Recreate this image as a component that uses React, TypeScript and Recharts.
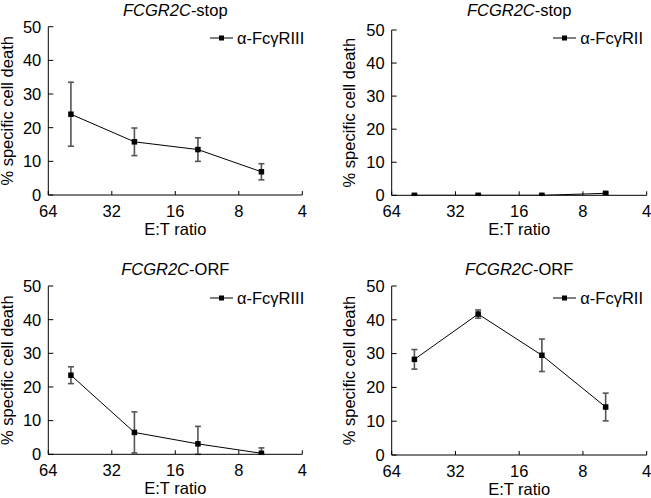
import React from 'react';
import { LineChart, Line, XAxis, YAxis, ErrorBar, Legend } from 'recharts';

// E:T ratios used in every panel
const ratios = [50, 25, 12.5, 6.25];
const xTicks = [64, 32, 16, 8, 4];
const yTicks = [0, 10, 20, 30, 40, 50];

// % specific cell death, mean and error
const stopRIII = [24, 15.8, 13.5, 6.9];
const stopRIIIErr = [9.5, 4.1, 3.5, 2.4];
const stopRII = [0, 0, 0, 0.6];
const stopRIIErr = [0.1, 0.1, 0.1, 0.3];
const orfRIII = [23.5, 6.5, 3.1, 0.3];
const orfRIIIErr = [2.5, 6.1, 5.2, 1.6];
const orfRII = [28.3, 41.7, 29.5, 14.2];
const orfRIIErr = [2.9, 1.2, 4.8, 4.1];

const FONT = '"Liberation Sans", Arial, Helvetica, sans-serif';
const FS = 16.5;

const buildRows = (vals: number[], errs: number[]) =>
  ratios.map((r, i) => ({
    ratio: r,
    value: vals[i],
    // lower whisker stops at zero
    err: [Math.min(errs[i], vals[i]), errs[i]],
  }));

const renderSquare = (p: any) => {
  const { cx, cy, index } = p;
  if (cx == null || cy == null) return <g key={index} />;
  return <rect key={index} x={cx - 2.75} y={cy - 2.75} width={5.5} height={5.5} fill="#000" />;
};

interface PanelProps {
  x: number;
  y: number;
  w: number;
  h: number;
  L: number;
  T: number;
  R: number;
  B: number;
  suffix: string;
  titleTop: number;
  legendName: string;
  legendLeft: number;
  legendY: number;
  yLabelX: number;
  values: number[];
  errs: number[];
}

function Panel(p: PanelProps) {
  const data = buildRows(p.values, p.errs);
  const cy = (p.T + p.B) / 2;
  const cx = (p.L + p.R) / 2;
  return (
    <>
      <div
        style={{
          position: 'absolute',
          left: p.x + p.L,
          width: p.R - p.L,
          top: p.y + p.titleTop,
          textAlign: 'center',
          fontFamily: FONT,
          fontSize: FS,
          lineHeight: '20px',
          color: '#000',
          whiteSpace: 'nowrap',
        }}
      >
        <i>FCGR2C</i>
        {p.suffix}
      </div>
      <div style={{ position: 'absolute', left: p.x, top: p.y }}>
        <LineChart
          width={p.w}
          height={p.h}
          data={data}
          margin={{ top: p.T, right: p.w - p.R, left: 0, bottom: 0 }}
        >
          <XAxis
            dataKey="ratio"
            type="number"
            scale="log"
            domain={[4, 64]}
            ticks={xTicks}
            interval={0}
            reversed
            allowDataOverflow
            height={p.h - p.B}
            stroke="#000"
            tickSize={-4}
            tickMargin={14}
            tick={{ fill: '#000', fontFamily: FONT, fontSize: FS }}
            label={{
              value: 'E:T ratio',
              content: () => (
                <text x={cx} y={p.B + 39.5} textAnchor="middle" fontFamily={FONT} fontSize={FS} fill="#000">
                  E:T ratio
                </text>
              ),
            }}
          />
          <YAxis
            type="number"
            domain={[0, 50]}
            ticks={yTicks}
            interval={0}
            allowDataOverflow
            width={p.L}
            stroke="#000"
            tickSize={-5}
            tickMargin={12}
            tick={{ fill: '#000', fontFamily: FONT, fontSize: FS }}
            label={{
              value: '% specific cell death',
              content: () => (
                <text
                  x={p.yLabelX}
                  y={cy}
                  transform={`rotate(-90 ${p.yLabelX} ${cy})`}
                  textAnchor="middle"
                  fontFamily={FONT}
                  fontSize={FS}
                  fill="#000"
                >
                  % specific cell death
                </text>
              ),
            }}
          />
          <Legend
            layout="horizontal"
            verticalAlign="middle"
            align="center"
            wrapperStyle={{ left: p.legendLeft, top: p.legendY - 10, width: 'auto' }}
            content={() => (
              <div
                style={{
                  display: 'flex',
                  alignItems: 'center',
                  height: 20,
                  whiteSpace: 'nowrap',
                  fontFamily: FONT,
                  fontSize: FS,
                  color: '#000',
                }}
              >
                <svg width={23} height={8}>
                  <line x1={0} y1={4} x2={23} y2={4} stroke="#000" strokeWidth={1} />
                  <rect x={9} y={1.5} width={5} height={5} fill="#000" />
                </svg>
                <span style={{ marginLeft: 4 }}>{p.legendName}</span>
              </div>
            )}
          />
          <Line
            dataKey="value"
            name={p.legendName}
            stroke="#000"
            strokeWidth={1}
            dot={renderSquare}
            activeDot={false}
            isAnimationActive={false}
          >
            <ErrorBar dataKey="err" direction="y" width={3} stroke="#555" strokeWidth={1.6} />
          </Line>
        </LineChart>
      </div>
    </>
  );
}

export default function App() {
  return (
    <div style={{ position: 'absolute', left: 0, top: 0, width: 651, height: 498, background: '#fff', overflow: 'hidden' }}>
      <Panel
        x={0} y={0} w={325} h={249}
        L={48.3} T={26.7} R={302.3} B={195}
        suffix="-stop" titleTop={0}
        legendName="α-FcγRIII" legendLeft={210} legendY={38}
        yLabelX={13.5}
        values={stopRIII} errs={stopRIIIErr}
      />
      <Panel
        x={325} y={0} w={326} h={249}
        L={66.7} T={30} R={321.7} B={195.3}
        suffix="-stop" titleTop={0}
        legendName="α-FcγRII" legendLeft={228.3} legendY={38.3}
        yLabelX={30}
        values={stopRII} errs={stopRIIErr}
      />
      <Panel
        x={0} y={249} w={325} h={249}
        L={48.3} T={37} R={302.3} B={205.3}
        suffix="-ORF" titleTop={10.3}
        legendName="α-FcγRIII" legendLeft={210} legendY={49.3}
        yLabelX={13.5}
        values={orfRIII} errs={orfRIIIErr}
      />
      <Panel
        x={325} y={249} w={326} h={249}
        L={66.7} T={37} R={321.7} B={206}
        suffix="-ORF" titleTop={10.3}
        legendName="α-FcγRII" legendLeft={228.3} legendY={49.3}
        yLabelX={30}
        values={orfRII} errs={orfRIIErr}
      />
    </div>
  );
}
